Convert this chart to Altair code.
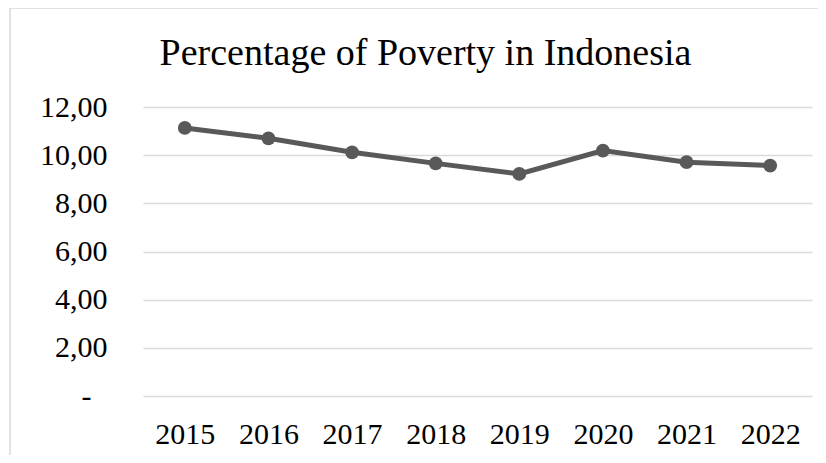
import altair as alt
import pandas as pd

years = ["2015", "2016", "2017", "2018", "2019", "2020", "2021", "2022"]
poverty = [11.13, 10.70, 10.12, 9.66, 9.22, 10.19, 9.71, 9.57]
y_ticks = [0, 2, 4, 6, 8, 10, 12]
title_text = "Percentage of Poverty in Indonesia"

df = pd.DataFrame({"year": years, "pct": poverty})
frame_df = pd.DataFrame({"k": [1]})

FONT = "Liberation Serif"
LINE = "#595959"
GRID = "#d9d9d9"

x_enc = alt.X("year:O", sort=years, title=None,
              scale=alt.Scale(type="point", padding=0.5),
              axis=alt.Axis(labelAngle=0, labelFont=FONT, labelFontSize=30,
                            labelColor="#000000", labelPadding=23, ticks=False,
                            domain=False, grid=False))
y_enc = alt.Y("pct:Q", title=None,
              scale=alt.Scale(domain=[0, 12], nice=False, zero=True),
              axis=alt.Axis(values=y_ticks, labelFont=FONT, labelFontSize=30,
                            labelColor="#000000",
                            labelPadding={"condition": {"test": "datum.value == 0", "value": 52}, "value": 36},
                            ticks=False,
                            domain=False, grid=True, gridColor=GRID, gridWidth=1.5,
                            labelBaseline="middle",
                            labelExpr="datum.value == 0 ? '-' : replace(format(datum.value, '.2f'), '.', ',')"))

line = alt.Chart(df).mark_line(color=LINE, strokeWidth=5).encode(x=x_enc, y=y_enc)
pts = alt.Chart(df).mark_point(filled=True, color=LINE, size=190, opacity=1).encode(x=x_enc, y=y_enc)

border = alt.Chart(frame_df).mark_rect(fill="transparent", stroke=GRID, strokeWidth=1.5, clip=False).encode(
    x=alt.value(-133), x2=alt.value(720), y=alt.value(-99), y2=alt.value(400))

chart = alt.layer(border, line, pts).properties(
    width=669, height=289,
    padding={"left": 135, "top": 99, "right": 6, "bottom": 59},
    autosize=alt.AutoSizeParams(type="none"),
    background="#ffffff",
    title=alt.TitleParams(title_text, font=FONT, fontSize=38, fontWeight="normal",
                          color="#000000", anchor="middle", frame="group",
                          baseline="alphabetic", offset=-96, dx=-52),
).configure_view(stroke="transparent")

chart.save("out.html", embed_options={"renderer": "svg", "actions": False})
